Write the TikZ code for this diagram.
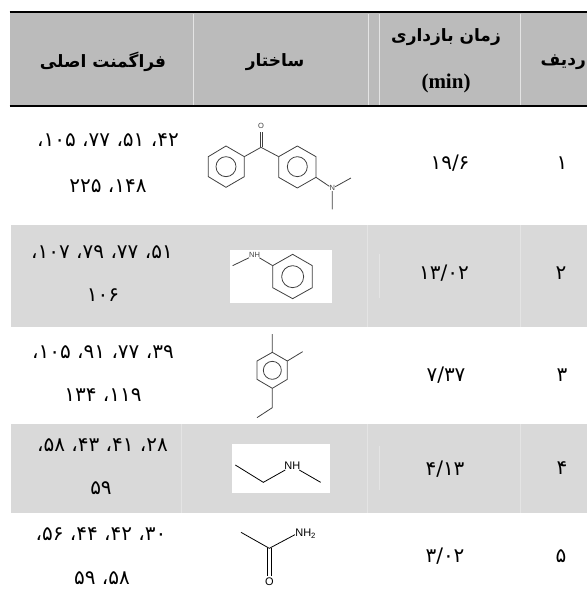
\documentclass[tikz,border=0pt]{standalone}
\usepackage{fontspec}
\TeXXeTstate=1
\newfontfamily\arabicfont[Script=Arabic]{DejaVu Sans}
\setsansfont{Liberation Sans}
\setmainfont{Liberation Serif}
\definecolor{headgray}{HTML}{BBBBBB}
\definecolor{rowgray}{HTML}{D9D9D9}
\definecolor{sepgray}{HTML}{E4E4E4}
\definecolor{bondgray}{HTML}{404040}
\newcommand{\faN}[1]{\beginL #1\endL}
\newcommand{\faT}[1]{\arabicfont\beginR #1\endR}
\begin{document}
\begin{tikzpicture}[x=1pt,y=-1pt,
  headtext/.style={font=\arabicfont\bfseries\fontsize{17}{19}\selectfont,inner sep=0pt},
  celltext/.style={font=\arabicfont\fontsize{20}{22}\selectfont,inner sep=0pt},
  mintext/.style={font=\rmfamily\bfseries\fontsize{21}{23}\selectfont,inner sep=0pt},
  bond/.style={line width=0.8pt,draw=bondgray},
  atom/.style={font=\sffamily\fontsize{7.5}{8}\selectfont,inner sep=0pt,text=bondgray},
  bigatom/.style={font=\sffamily\fontsize{11}{12}\selectfont,inner sep=0pt,text=black},
  sep/.style={line width=0.5pt,draw=sepgray}]
\useasboundingbox (0,0) rectangle (587,596);
\clip (0,0) rectangle (587,596);
% bands
\fill[headgray] (10,13) rectangle (587,106);
\fill[rowgray] (10.5,225) rectangle (587,327);
\fill[rowgray] (10.5,424) rectangle (587,513);
\draw[line width=2pt] (9.5,12) -- (587,12);
\draw[line width=1.2pt] (9.5,106) -- (587,106);
% faint separators
\foreach \sx in {193,368,379,520} \draw[sep] (\sx,14) -- (\sx,105);
\foreach \sx in {367,520} \draw[sep] (\sx,225) -- (\sx,327);
\draw[sep] (379,254) -- (379,298);
\foreach \sx in {181,367,520} \draw[sep] (\sx,424) -- (\sx,513);
\draw[sep] (379,446) -- (379,490);
% white boxes
\fill[white] (230,250) rectangle (331.7,302.7);
\fill[white] (232,444) rectangle (330,492.7);
% header
\node[headtext] (hfrag) at (103,62) {\faT{فراگمنت اصلی}};
\node[headtext] (hstruct) at (275,62) {\faT{ساختار}};
\node[headtext] (htime) at (446,37) {\faT{زمان بازداری}};
\node[mintext] (hmin) at (446,83) {(min)};
\node[headtext,anchor=east] (hrow) at (586,62) {\faT{ردیف}};
% row numbers
\node[celltext] (n1) at (562,163) {\faT{\faN{۱}}};
\node[celltext] (n2) at (561,273) {\faT{\faN{۲}}};
\node[celltext] (n3) at (562,375) {\faT{\faN{۳}}};
\node[celltext] (n4) at (562,468) {\faT{\faN{۴}}};
\node[celltext] (n5) at (561,556) {\faT{\faN{۵}}};
% times
\node[celltext] (t1) at (450,163) {\faT{\faN{۱۹/۶}}};
\node[celltext] (t2) at (444,273) {\faT{\faN{۱۳/۰۲}}};
\node[celltext] (t3) at (446,375) {\faT{\faN{۷/۳۷}}};
\node[celltext] (t4) at (445,469) {\faT{\faN{۴/۱۳}}};
\node[celltext] (t5) at (445,556) {\faT{\faN{۳/۰۲}}};
% fragments
\node[celltext] (f1a) at (108,140) {\faT{\faN{۴۲}، \faN{۵۱}، \faN{۷۷}، \faN{۱۰۵}،}};
\node[celltext] (f1b) at (108,186) {\faT{\faN{۱۴۸}، \faN{۲۲۵}}};
\node[celltext] (f2a) at (102,252) {\faT{\faN{۵۱}، \faN{۷۷}، \faN{۷۹}، \faN{۱۰۷}،}};
\node[celltext] (f2b) at (103,295) {\faT{\faN{۱۰۶}}};
\node[celltext] (f3a) at (103,352) {\faT{\faN{۳۹}، \faN{۷۷}، \faN{۹۱}، \faN{۱۰۵}،}};
\node[celltext] (f3b) at (103,395) {\faT{\faN{۱۱۹}، \faN{۱۳۴}}};
\node[celltext] (f4a) at (102.5,445) {\faT{\faN{۲۸}، \faN{۴۱}، \faN{۴۳}، \faN{۵۸}،}};
\node[celltext] (f4b) at (101,488) {\faT{\faN{۵۹}}};
\node[celltext] (f5a) at (101,534) {\faT{\faN{۳۰}، \faN{۴۲}، \faN{۴۴}، \faN{۵۶}،}};
\node[celltext] (f5b) at (102,578) {\faT{\faN{۵۸}، \faN{۵۹}}};
% molecule 1
\begin{scope}[shift={(190,110)},x=0.3333pt,y=-0.3333pt]
\draw[bond] (108,108)--(163,140)--(163,200)--(108,232)--(55,200)--(55,140)--cycle;
\draw[bond] (108,170) circle[radius=30];
\draw[bond] (322,108)--(378,140)--(378,202)--(322,234)--(266,202)--(266,140)--cycle;
\draw[bond] (322,170) circle[radius=30];
\draw[bond] (163,140)--(213,112)--(266,140);
\draw[bond] (210,112)--(210,65) (216,112)--(216,65);
\node[atom] (m1o) at (213,49) {O};
\node[atom] (m1n) at (427,235) {N};
\draw[bond] (378,202)--(m1n) (m1n)--(483,204) (m1n)--(427,298);
\end{scope}
% molecule 2
\begin{scope}[shift={(190,220)},x=0.3333pt,y=-0.3333pt]
\draw[bond] (308,103)--(367,137)--(367,203)--(308,236)--(248,203)--(248,137)--cycle;
\draw[bond] (308,170) circle[radius=33];
\node[atom] (m2nh) at (194,105) {NH};
\draw[bond] (128,137)--(m2nh) (m2nh)--(248,137);
\end{scope}
% molecule 3
\begin{scope}[shift={(210,325)},x=0.3333pt,y=-0.3333pt]
\draw[bond] (187,82)--(232,108)--(232,163)--(187,190)--(141,163)--(141,108)--cycle;
\draw[bond] (187,136) circle[radius=27];
\draw[bond] (187,82)--(187,27) (232,108)--(278,80);
\draw[bond] (187,190)--(187,248)--(141,278);
\end{scope}
% molecules 4 and 5
\begin{scope}[shift={(190,430)},x=0.3333pt,y=-0.3333pt]
\node[bigatom] (m4nh) at (307,108) {NH};
\draw[bond,draw=black] (136,105)--(220,157)--(m4nh) (m4nh)--(392,157);
\node[bigatom] (m5nh) at (347,312) {NH\textsubscript{2}};
\node[bigatom] (m5o) at (238,456) {O};
\draw[bond,draw=black] (153,307)--(238,355)--(315,314);
\draw[bond,draw=black] (233,355)--(233,438) (244,355)--(244,438);
\end{scope}
\end{tikzpicture}
\end{document}
